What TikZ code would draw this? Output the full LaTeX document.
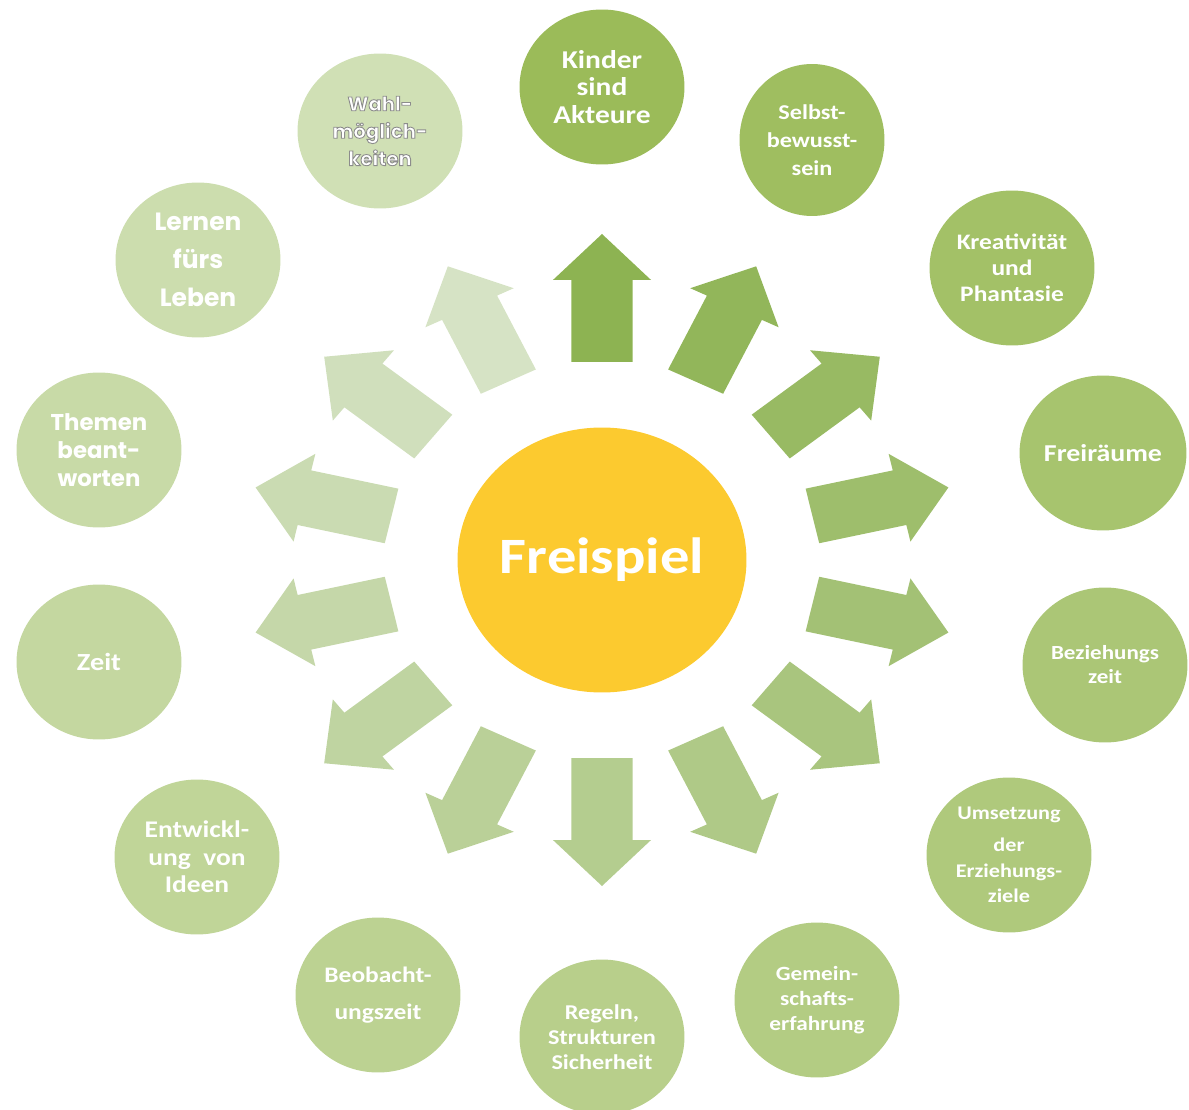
\documentclass[tikz,border=0pt]{standalone}
\usepackage{fontspec}
\setmainfont{Carlito}[FakeStretch=1.15]
\newfontfamily\geofont{Poppins}
\usetikzlibrary{shapes.geometric}

\definecolor{sunyellow}{RGB}{252,202,47}
\definecolor{leafdark}{RGB}{155,187,89}
\definecolor{leaflight}{RGB}{208,224,181}
\definecolor{arrowdark}{RGB}{141,179,82}
\definecolor{arrowlight}{RGB}{214,227,197}

\newcommand\topicfont[2]{\fontsize{#1}{#2}\selectfont\bfseries}
\newcommand\outlined[1]{\special{pdf:code 2 Tr 0.5 w 0.55 0.55 0.55 RG}#1\special{pdf:code 0 Tr}}

\tikzset{
  topic/.style={ellipse,minimum width=3.3cm,minimum height=3.1cm,inner sep=0pt,
    align=center,text=white,font=\topicfont{12.5}{15}},
  hub/.style={ellipse,minimum width=5.78cm,minimum height=5.3cm,inner sep=0pt,
    fill=sunyellow,text=white,font=\topicfont{29}{34}}
}

\begin{document}
\begin{tikzpicture}[x=0.02cm,y=0.02cm]
  \useasboundingbox (-602,-549) rectangle (587,560);
  \begin{scope}[xscale=1.09]
    \foreach \k in {0,...,13}{
      \pgfmathtruncatemacro\p{100*\k/13}
      \fill[arrowlight!\p!arrowdark,rotate={90-\k*360/14}]
        (198,-28)--(280,-28)--(280,-45)--(326,0)--(280,45)--(280,28)--(198,28)--cycle;
    }
  \end{scope}
  \node[hub] (freispiel) at (0,0) {Freispiel};
  \node[topic,fill=leafdark,font=\topicfont{14.6}{15.6}] (kinder) at (0,473) {Kinder\\sind\\Akteure};
  \node[topic,fill=leaflight!8!leafdark,minimum width=2.9cm,minimum height=3.04cm,font=\topicfont{12}{16}] (selbst) at (210,420) {Selbst-\\bewusst-\\sein};
  \node[topic,fill=leaflight!15!leafdark,font=\topicfont{12.6}{14.8}] (kreativ) at (410,292) {Kreativität\\und\\Phantasie};
  \node[topic,fill=leaflight!23!leafdark,font=\topicfont{13.8}{15}] (frei) at (501,107) {Freiräume};
  \node[topic,fill=leaflight!31!leafdark,font=\topicfont{11.4}{13.7}] (bezieh) at (503,-105) {Beziehungs\\zeit};
  \node[topic,fill=leaflight!38!leafdark,font=\topicfont{11}{14.5}] (umsetz) at (407,-295) {Umsetzung\\[4pt]der\\Erziehungs-\\ziele};
  \node[topic,fill=leaflight!46!leafdark,font=\topicfont{11.5}{14.2}] (gemein) at (215,-440) {Gemein-\\schafts-\\erfahrung};
  \node[topic,fill=leaflight!54!leafdark,font=\topicfont{12}{14.2}] (regeln) at (0,-477) {Regeln,\\Strukturen\\Sicherheit};
  \node[topic,fill=leaflight!62!leafdark,font=\topicfont{12.6}{21}] (beobacht) at (-224,-435) {Beobacht-\\ungszeit};
  \node[topic,fill=leaflight!69!leafdark,font=\topicfont{13.6}{15.6}] (entwickl) at (-405,-297) {Entwickl-\\ung\ \ von\\Ideen};
  \node[topic,fill=leaflight!77!leafdark,font=\topicfont{14}{15}] (zeit) at (-503,-102) {Zeit};
  \node[topic,fill=leaflight!85!leafdark,font=\geofont\topicfont{13}{16}] (themen) at (-503,110) {Themen\\beant-\\worten};
  \node[topic,fill=leaflight!92!leafdark,font=\geofont\topicfont{14.2}{21.6}] (lernen) at (-404,300) {Lernen\\fürs\\Leben};
  \node[topic,fill=leaflight,font=\geofont\topicfont{11.2}{15.6}] (wahl) at (-222,429) {\outlined{Wahl-\\möglich-\\keiten}};
\end{tikzpicture}
\end{document}
